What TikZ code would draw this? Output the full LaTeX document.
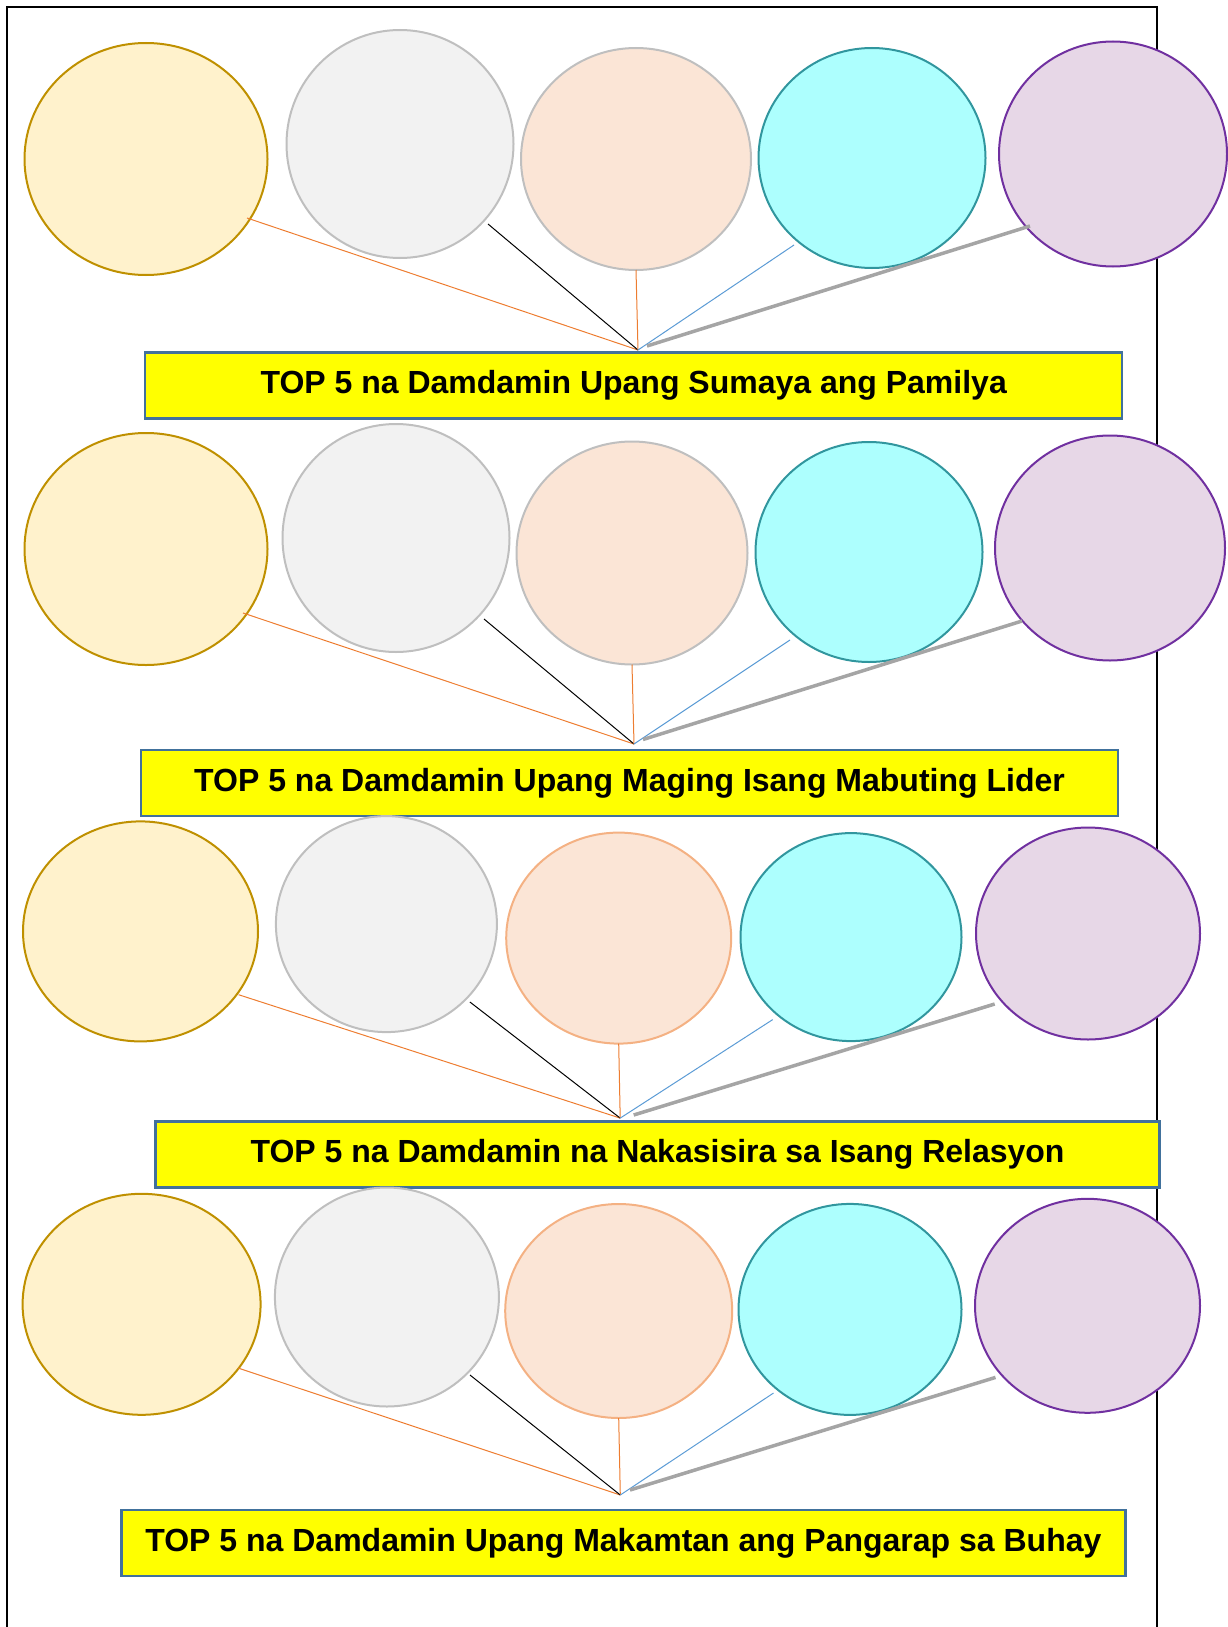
\documentclass[tikz,border=0pt]{standalone}
\usepackage{fontspec}
\setmainfont{Liberation Sans}
\usetikzlibrary{shapes.geometric}

\definecolor{ouroBorda}{HTML}{BF9000}
\definecolor{ouroFundo}{HTML}{FFF2CC}
\definecolor{cinzaBorda}{HTML}{BFBFBF}
\definecolor{cinzaFundo}{HTML}{F2F2F2}
\definecolor{pessegoFundo}{HTML}{FBE5D6}
\definecolor{pessegoBorda}{HTML}{F4B183}
\definecolor{aquaFundo}{HTML}{ADFFFE}
\definecolor{aquaBorda}{HTML}{31969E}
\definecolor{roxoFundo}{HTML}{E7D7E7}
\definecolor{roxoBorda}{HTML}{7030A0}
\definecolor{laranja}{HTML}{ED7D31}
\definecolor{azul}{HTML}{5B9BD5}
\definecolor{cinzaLinha}{HTML}{A5A5A5}
\definecolor{caixaBorda}{HTML}{41719C}
\definecolor{amarelo}{HTML}{FFFF00}

\tikzset{
  bolha/.style={ellipse, draw, line width=2pt, inner sep=0pt, outer sep=0pt},
  bolhaOuro/.style={bolha, draw=ouroBorda, fill=ouroFundo},
  bolhaCinza/.style={bolha, draw=cinzaBorda, fill=cinzaFundo},
  bolhaPessego/.style={bolha, draw=cinzaBorda, fill=pessegoFundo},
  bolhaPessegoB/.style={bolha, draw=pessegoBorda, fill=pessegoFundo},
  bolhaAqua/.style={bolha, draw=aquaBorda, fill=aquaFundo},
  bolhaRoxo/.style={bolha, draw=roxoBorda, fill=roxoFundo},
  titulo/.style={draw=caixaBorda, line width=2.5pt, fill=amarelo, inner sep=0pt,
    minimum height=66, font=\bfseries\fontsize{32}{38}\selectfont},
  fioLaranja/.style={draw=laranja, line width=1pt},
  fioPreto/.style={draw=black, line width=1pt},
  fioAzul/.style={draw=azul, line width=1pt},
  fioCinza/.style={draw=cinzaLinha, line width=3.5pt}
}

\begin{document}
\begin{tikzpicture}[x=1pt, y=-1pt]
      \useasboundingbox (0,0) rectangle (1227,1627);

      % Moldura (aberta embaixo)
      \draw[line width=2pt] (6.5,1627) -- (6.5,7.5) -- (1156.5,7.5) -- (1156.5,1627);

      % ===== Grupo 1 =====
      \node[bolhaOuro, minimum width=243, minimum height=232] (a1) at (146,159) {};
      \node[bolhaCinza, minimum width=227, minimum height=228] (a2) at (400,144) {};
      \node[bolhaPessego, minimum width=230, minimum height=222] (a3) at (636,159) {};
      \node[bolhaAqua, minimum width=227, minimum height=220] (a4) at (872,158) {};
      \node[bolhaRoxo, minimum width=228, minimum height=225] (a5) at (1113,154) {};
      \coordinate (a1e) at (247,218);
      \coordinate (a2e) at (488,224);
      \coordinate (a4e) at (794,245);
      \coordinate (a5e) at (1030,226);
      \coordinate (a0) at (638,350);
      \coordinate (a0g) at (647,346);
      \draw[fioLaranja] (a1e) -- (a0);
      \draw[fioPreto] (a2e) -- (a0);
      \draw[fioLaranja] (a3.south) -- (a0);
      \draw[fioAzul] (a4e) -- (a0);
      \draw[fioCinza] (a5e) -- (a0g);
      \node[titulo, minimum width=977] (t1) at (633.7,385.3) {TOP 5 na Damdamin Upang Sumaya ang Pamilya};

      % ===== Grupo 2 =====
      \node[bolhaOuro, minimum width=243, minimum height=232] (b1) at (146,549) {};
      \node[bolhaCinza, minimum width=227, minimum height=228] (b2) at (396,538) {};
      \node[bolhaPessego, minimum width=231, minimum height=223] (b3) at (632,553) {};
      \node[bolhaAqua, minimum width=227, minimum height=220] (b4) at (869,552) {};
      \node[bolhaRoxo, minimum width=230, minimum height=225] (b5) at (1110,548) {};
      \coordinate (b1e) at (243,613);
      \coordinate (b2e) at (484,619);
      \coordinate (b4e) at (790,640);
      \coordinate (b5e) at (1022,621);
      \coordinate (b0) at (634,744);
      \coordinate (b0g) at (643,739.5);
      \draw[fioLaranja] (b1e) -- (b0);
      \draw[fioPreto] (b2e) -- (b0);
      \draw[fioLaranja] (b3.south) -- (b0);
      \draw[fioAzul] (b4e) -- (b0);
      \draw[fioCinza] (b5e) -- (b0g);
      \node[titulo, minimum width=977] (t2) at (629.5,783.2) {TOP 5 na Damdamin Upang Maging Isang Mabuting Lider};

      % ===== Grupo 3 =====
      \node[bolhaOuro, minimum width=235, minimum height=220] (c1) at (140.5,931.4) {};
      \node[bolhaCinza, minimum width=221, minimum height=216] (c2) at (386.4,924.1) {};
      \node[bolhaPessegoB, minimum width=225, minimum height=211] (c3) at (618.7,938.1) {};
      \node[bolhaAqua, minimum width=221, minimum height=208] (c4) at (851,937.1) {};
      \node[bolhaRoxo, minimum width=224, minimum height=212] (c5) at (1088,933.5) {};
      \coordinate (c1e) at (238.6,994.7);
      \coordinate (c2e) at (469.9,1002);
      \coordinate (c4e) at (772.7,1019.6);
      \coordinate (c5e) at (994.7,1004);
      \coordinate (c0) at (620.2,1118.1);
      \coordinate (c0g) at (633.7,1115);
      \draw[fioLaranja] (c1e) -- (c0);
      \draw[fioPreto] (c2e) -- (c0);
      \draw[fioLaranja] (c3.south) -- (c0);
      \draw[fioAzul] (c4e) -- (c0);
      \draw[fioCinza] (c5e) -- (c0g);
      \node[titulo, minimum width=1004] (t3) at (657.6,1154.4) {TOP 5 na Damdamin na Nakasisira sa Isang Relasyon};

      % ===== Grupo 4 =====
      \node[bolhaOuro, minimum width=238, minimum height=221] (d1) at (141.6,1304.3) {};
      \node[bolhaCinza, minimum width=224, minimum height=219] (d2) at (386.9,1297) {};
      \node[bolhaPessegoB, minimum width=227, minimum height=214] (d3) at (618.7,1311) {};
      \node[bolhaAqua, minimum width=223, minimum height=211] (d4) at (850,1309.4) {};
      \node[bolhaRoxo, minimum width=225, minimum height=214] (d5) at (1087.5,1305.8) {};
      \coordinate (d1e) at (238,1368);
      \coordinate (d2e) at (470,1375);
      \coordinate (d4e) at (773.5,1393);
      \coordinate (d5e) at (995.5,1377.4);
      \coordinate (d0) at (620.3,1495);
      \coordinate (d0g) at (630,1490);
      \draw[fioLaranja] (d1e) -- (d0);
      \draw[fioPreto] (d2e) -- (d0);
      \draw[fioLaranja] (d3.south) -- (d0);
      \draw[fioAzul] (d4e) -- (d0);
      \draw[fioCinza] (d5e) -- (d0g);
      \node[titulo, minimum width=1004] (t4) at (623.4,1543.1) {TOP 5 na Damdamin Upang Makamtan ang Pangarap sa Buhay};

    \end{tikzpicture}
\end{document}
